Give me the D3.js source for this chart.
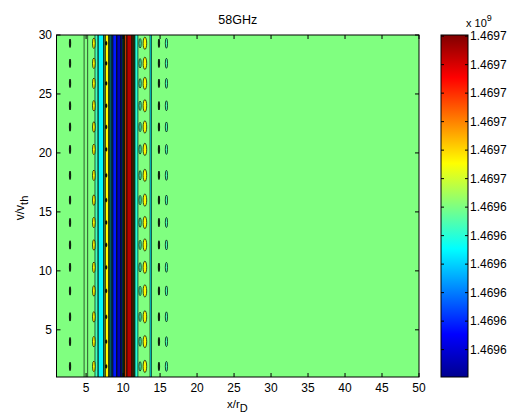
<!DOCTYPE html>
<html><head><meta charset="utf-8">
<script src="https://cdn.jsdelivr.net/npm/d3@7"></script>
<style>
body{margin:0;background:#fff}
text{font-family:"Liberation Sans",Arial,sans-serif;fill:#000}
</style></head>
<body><svg id="chart" width="508" height="414"></svg>
<script>
// ---------- data (values in units of 1e9) ----------
const title = "58GHz";
const xTicks = [5, 10, 15, 20, 25, 30, 35, 40, 45, 50];
const yTicks = [5, 10, 15, 20, 25, 30];
const xDomain = [1, 50];
const yDomain = [1, 30];
const cMin = 1.4696152, cMax = 1.4696752;
const cbTickValues = [1.469620, 1.469625, 1.469630, 1.469635, 1.469640, 1.469645,
                      1.469650, 1.469655, 1.469660, 1.469665, 1.469670, 1.469675];
const cbTickLabels = ["1.4696","1.4696","1.4696","1.4696","1.4696","1.4696",
                      "1.4697","1.4697","1.4697","1.4697","1.4697","1.4697"];
const backgroundValue = 1.4696452;
// filled contour bands along x: start, end, level value
const bandStart = [6.20, 6.62, 7.38, 7.58, 8.06, 8.22, 8.40, 8.60, 9.14, 9.69, 9.88, 10.02, 10.12, 10.22, 10.50, 11.18, 11.33, 11.45, 11.58, 13.64];
const bandEnd   = [6.62, 7.38, 7.58, 8.06, 8.22, 8.40, 8.60, 9.14, 9.69, 9.88, 10.02, 10.12, 10.22, 10.50, 11.18, 11.33, 11.45, 11.58, 12.00, 13.84];
const bandValue = [1.4696416, 1.4696374, 1.4696452, 1.4696530, 1.4696452, 1.4696374, 1.4696302, 1.4696242, 1.4696182, 1.4696242, 1.4696374, 1.4696452, 1.4696530, 1.4696632, 1.4696722, 1.4696632, 1.4696530, 1.4696452, 1.4696400, 1.4696374];
// extra contour lines inside the background level
const extraLines = [4.73, 5.21];
// small closed contours ("islands") repeating along y
const islandY = [1.9, 4.0, 6.1, 8.3, 10.3, 12.2, 14.1, 16.0, 18.1, 20.3, 22.2, 24.0, 25.9, 27.6, 29.3];
const islandX = [2.83, 6.05, 7.72, 12.30, 12.95, 14.85, 15.86];
const islandW = [0.18, 0.36, 0.18, 0.30, 0.48, 0.18, 0.30];
const islandH = [0.72, 0.90, 0.32, 0.80, 1.05, 0.72, 0.85];
const islandValue = [null, 1.4696530, null, 1.4696416, 1.4696530, null, 1.4696416];

// ---------- drawing ----------
const svg = d3.select("#chart");
const L = 56.5, R = 419, T = 35, B = 377;
const x = d3.scaleLinear().domain(xDomain).range([L, R]);
const y = d3.scaleLinear().domain(yDomain).range([B, T]);
const jetT = [0, 0.125, 0.375, 0.625, 0.875, 1];
const jetC = ["#00008f", "#0000ff", "#00ffff", "#ffff00", "#ff0000", "#800000"];
const color = d3.scaleLinear()
  .domain(jetT.map(t => cMin + t * (cMax - cMin)))
  .range(jetC).interpolate(d3.interpolateRgb).clamp(true);

const defs = svg.append("defs");
defs.append("clipPath").attr("id", "pc").append("rect")
  .attr("x", L).attr("y", T).attr("width", R - L).attr("height", B - T);
const plot = svg.append("g").attr("clip-path", "url(#pc)");

plot.append("rect").attr("x", x(xDomain[0])).attr("y", y(yDomain[1]))
  .attr("width", x(xDomain[1]) - x(xDomain[0])).attr("height", y(yDomain[0]) - y(yDomain[1]))
  .attr("fill", color(backgroundValue));

const bands = bandStart.map((s, i) => ({s, e: bandEnd[i], v: bandValue[i]}));
plot.selectAll("rect.band").data(bands).join("rect").attr("class", "band")
  .attr("x", d => x(d.s)).attr("width", d => x(d.e) - x(d.s))
  .attr("y", y(yDomain[1])).attr("height", y(yDomain[0]) - y(yDomain[1]))
  .attr("fill", d => color(d.v));

const lineXs = extraLines.concat(bandStart, bandEnd);
plot.selectAll("line.ct").data(lineXs).join("line").attr("class", "ct")
  .attr("x1", d => x(d)).attr("x2", d => x(d))
  .attr("y1", y(yDomain[0])).attr("y2", y(yDomain[1]))
  .attr("stroke", "#000").attr("stroke-width", 0.8).attr("opacity", 0.8);

const islands = [];
islandX.forEach((cx, i) => islandY.forEach(cy => islands.push({cx, cy, w: islandW[i], h: islandH[i], v: islandValue[i]})));
plot.selectAll("ellipse.isl").data(islands).join("ellipse").attr("class", "isl")
  .attr("cx", d => x(d.cx)).attr("cy", d => y(d.cy))
  .attr("rx", d => (x(d.w) - x(0)) / 2).attr("ry", d => (y(0) - y(d.h)) / 2)
  .attr("fill", d => d.v === null ? "#000" : color(d.v))
  .attr("stroke", "#000").attr("stroke-width", 0.7);

// axes
const tickLen = 4;
const ax = svg.append("g");
ax.append("rect").attr("x", L).attr("y", T).attr("width", R - L).attr("height", B - T)
  .attr("fill", "none").attr("stroke", "#000").attr("stroke-width", 1);
xTicks.forEach(t => {
  ax.append("line").attr("x1", x(t)).attr("x2", x(t)).attr("y1", B).attr("y2", B - tickLen).attr("stroke", "#000");
  ax.append("line").attr("x1", x(t)).attr("x2", x(t)).attr("y1", T).attr("y2", T + tickLen).attr("stroke", "#000");
  ax.append("text").attr("x", x(t)).attr("y", 392).attr("text-anchor", "middle").attr("font-size", 12).text(t);
});
yTicks.forEach(t => {
  ax.append("line").attr("x1", L).attr("x2", L + tickLen).attr("y1", y(t)).attr("y2", y(t)).attr("stroke", "#000");
  ax.append("line").attr("x1", R).attr("x2", R - tickLen).attr("y1", y(t)).attr("y2", y(t)).attr("stroke", "#000");
  ax.append("text").attr("x", 52).attr("y", y(t) + 4.3).attr("text-anchor", "end").attr("font-size", 12).text(t);
});
svg.append("text").attr("x", (L + R) / 2).attr("y", 24).attr("text-anchor", "middle").attr("font-size", 12.5).text(title);
const xl = svg.append("text").attr("x", 227).attr("y", 408).attr("font-size", 11.5);
xl.append("tspan").text("x/r");
xl.append("tspan").attr("dy", 4).attr("font-size", 11).text("D");
const yl = svg.append("text").attr("transform", "translate(24,208) rotate(-90)").attr("text-anchor", "middle").attr("font-size", 12);
yl.append("tspan").text("v/v");
yl.append("tspan").attr("dy", 4).attr("font-size", 11).text("th");

// colorbar
const CL = 441, CR = 468;
const cy = d3.scaleLinear().domain([cMin, cMax]).range([B, T]);
const grad = defs.append("linearGradient").attr("id", "jet")
  .attr("x1", 0).attr("y1", 1).attr("x2", 0).attr("y2", 0);
jetT.forEach((t, i) => grad.append("stop").attr("offset", t).attr("stop-color", jetC[i]));
svg.append("rect").attr("x", CL).attr("y", T).attr("width", CR - CL).attr("height", B - T)
  .attr("fill", "url(#jet)").attr("stroke", "#000").attr("stroke-width", 1);
cbTickValues.forEach((v, i) => {
  const yy = cy(v);
  svg.append("line").attr("x1", CL).attr("x2", CL + 3).attr("y1", yy).attr("y2", yy).attr("stroke", "#000");
  svg.append("line").attr("x1", CR).attr("x2", CR - 3).attr("y1", yy).attr("y2", yy).attr("stroke", "#000");
  svg.append("text").attr("x", 470).attr("y", yy + 4.3).attr("font-size", 12).text(cbTickLabels[i]);
});
const ex = svg.append("text").attr("x", 466).attr("y", 27).attr("font-size", 11);
ex.append("tspan").text("x 10");
ex.append("tspan").attr("dy", -6).attr("font-size", 9).text("9");
</script></body></html>
